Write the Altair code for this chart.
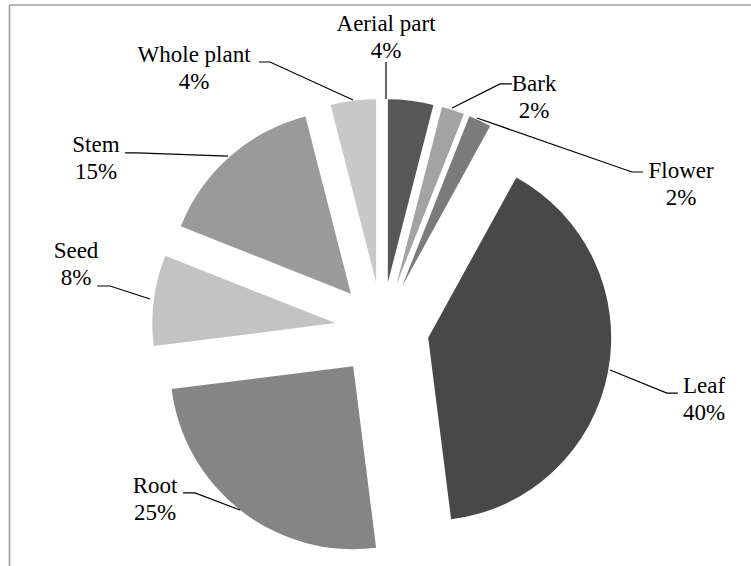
import math
import altair as alt
import pandas as pd

# ---- data ----
categories = ["Aerial part", "Bark", "Flower", "Leaf", "Root", "Seed", "Stem", "Whole plant"]
values = [4, 2, 2, 40, 25, 8, 15, 4]
colors = ["#575757", "#a3a3a3", "#7b7b7b", "#484848", "#858585", "#c3c3c3", "#9a9a9a", "#c8c8c8"]

# label anchors (pie-radius units, centre of pie = 0,0; y up)
label_x = [0.022, 0.831, 1.634, 1.760, -1.240, -1.672, -1.563, -1.027]
label_y = [1.628, 1.301, 0.825, -0.350, -0.896, 0.388, 0.967, 1.459]

# leader lines (pie-radius units)
leader_pts = {
    "Aerial part": [(0.022, 1.459), (0.022, 1.257)],
    "Bark": [(0.710, 1.339), (0.645, 1.339), (0.383, 1.208)],
    "Flower": [(1.426, 0.858), (1.366, 0.858), (0.519, 1.153)],
    "Leaf": [(1.617, -0.350), (1.557, -0.350), (1.246, -0.224)],
    "Root": [(-1.087, -0.896), (-1.022, -0.896), (-0.776, -0.989)],
    "Seed": [(-1.557, 0.235), (-1.486, 0.235), (-1.268, 0.164)],
    "Stem": [(-1.404, 0.962), (-1.339, 0.962), (-0.842, 0.945)],
    "Whole plant": [(-0.672, 1.459), (-0.612, 1.459), (-0.158, 1.251)],
}

EXPLODE = 0.257  # explosion distance as fraction of radius

# ---- layout ----
W, H = 751, 566
CX, CY, R = 382, 329, 183
FONT = "Times New Roman"

xscale = alt.Scale(domain=[-1, 1], range=[CX - R, CX + R], nice=False, zero=False)
yscale = alt.Scale(domain=[-1, 1], range=[CY + R, CY - R], nice=False, zero=False)
color_scale = alt.Scale(domain=categories, range=colors)

slices = pd.DataFrame({"category": categories, "value": values, "order": list(range(len(categories)))})

arcs = (
    alt.Chart(slices)
    .transform_window(cum="sum(value)", sort=[alt.SortField("order")], frame=[None, 0])
    .transform_calculate(
        t0="datum.cum - datum.value",
        mid="datum.cum - datum.value / 2",
    )
    .transform_calculate(
        ex=f"{EXPLODE} * sin(2 * PI * datum.mid / 100)",
        ey=f"{EXPLODE} * cos(2 * PI * datum.mid / 100)",
    )
    .mark_arc(radius=R)
    .encode(
        x=alt.X("ex:Q", scale=xscale, axis=None),
        y=alt.Y("ey:Q", scale=yscale, axis=None),
        theta=alt.Theta("t0:Q", stack=None, scale=alt.Scale(domain=[0, 100], range=[0, 2 * math.pi])),
        theta2=alt.Theta2("cum:Q"),
        color=alt.Color("category:N", scale=color_scale, legend=None),
    )
)

line_rows = []
for cat, pts in leader_pts.items():
    for i, (px, py) in enumerate(pts):
        line_rows.append({"category": cat, "i": i, "lx": px, "ly": py})
lines_df = pd.DataFrame(line_rows)

leaders = (
    alt.Chart(lines_df)
    .mark_line(color="black", strokeWidth=1.2)
    .encode(
        x=alt.X("lx:Q", scale=xscale, axis=None),
        y=alt.Y("ly:Q", scale=yscale, axis=None),
        detail="category:N",
        order="i:Q",
    )
)

labels_df = pd.DataFrame({
    "text": [f"{c}\n{v}%" for c, v in zip(categories, values)],
    "tx": label_x,
    "ty": label_y,
})

labels = (
    alt.Chart(labels_df)
    .mark_text(font=FONT, fontSize=23, lineBreak="\n", align="center", baseline="alphabetic",
               lineHeight=27, color="black")
    .encode(
        x=alt.X("tx:Q", scale=xscale, axis=None),
        y=alt.Y("ty:Q", scale=yscale, axis=None),
        text="text:N",
    )
)

frame_left = alt.Chart(pd.DataFrame({"a": [0]})).mark_rule(color="#9c9c9c", strokeWidth=1.6).encode(
    x=alt.value(9.5), y=alt.value(5), y2=alt.value(H)
)
frame_top = alt.Chart(pd.DataFrame({"a": [0]})).mark_rule(color="#9c9c9c", strokeWidth=1.6).encode(
    y=alt.value(5), x=alt.value(9.5), x2=alt.value(W)
)

chart = (
    alt.layer(arcs, leaders, labels, frame_left, frame_top)
    .properties(width=W, height=H, padding=0, autosize=alt.AutoSizeParams(type="none"), background="white")
    .configure_view(stroke=None)
    .configure_text(font=FONT)
)

chart.save("out.html", embed_options={"renderer": "svg", "actions": False})
